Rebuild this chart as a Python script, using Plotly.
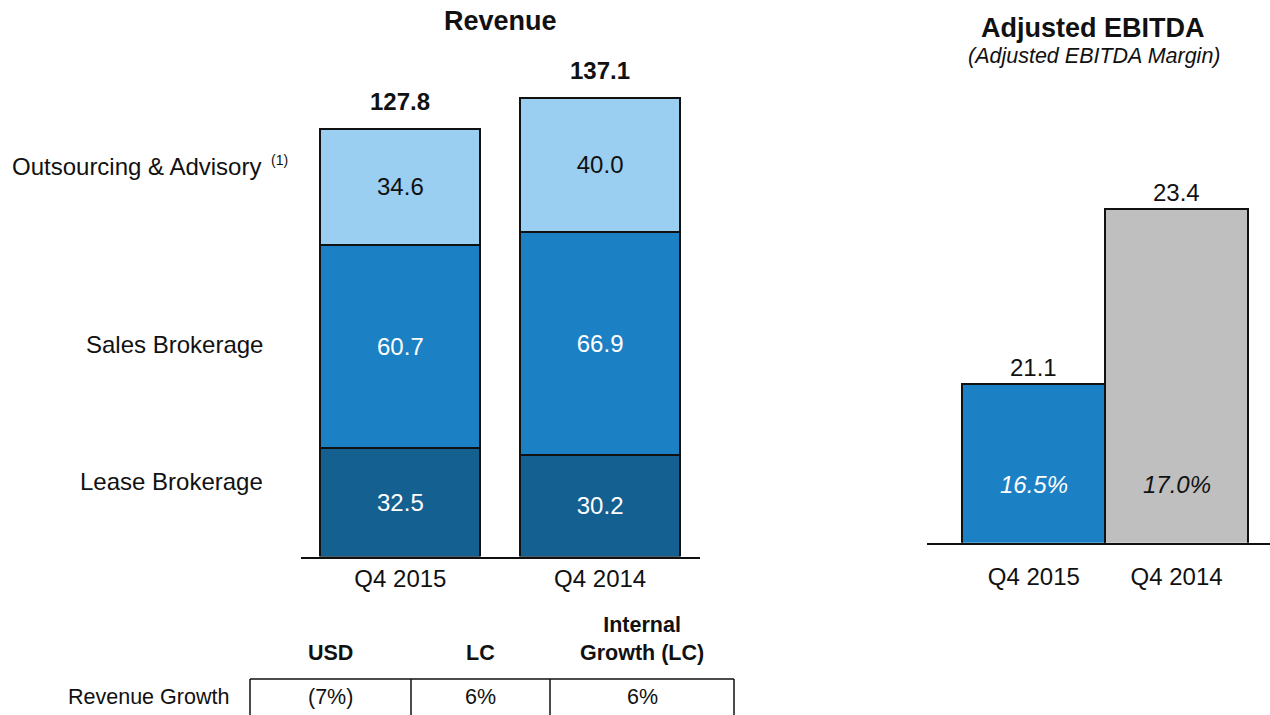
import plotly.graph_objects as go

# ---------------- data ----------------
categories = ["Q4 2015", "Q4 2014"]
segment_names = ["Lease Brokerage", "Sales Brokerage", "Outsourcing & Advisory"]
lease_brokerage = [32.5, 30.2]
sales_brokerage = [60.7, 66.9]
outsourcing_advisory = [34.6, 40.0]
revenue_total = [127.8, 137.1]

ebitda = [21.1, 23.4]
ebitda_margin = ["16.5%", "17.0%"]

table_columns = ["USD", "LC", "Internal<br>Growth (LC)"]
table_row_label = "Revenue Growth"
table_values = ["(7%)", "6%", "6%"]
footnote_mark = "(1)"

# ---------------- style ----------------
W, H = 1270, 715
FONT = "Arial, Liberation Sans, sans-serif"
LIGHT = "#9ACFF1"
MID = "#1B80C4"
DARK = "#146091"
GRAY = "#BFBFBF"
EDGE = "#111111"
TXT = "#111111"
FS = 24


def px(x):
    return x / W


def py(y):
    return 1 - y / H


fig = go.Figure()

seg_values = [lease_brokerage, sales_brokerage, outsourcing_advisory]
seg_colors = [DARK, MID, LIGHT]
seg_text_colors = ["white", "white", TXT]
for name, vals, col, tcol in zip(segment_names, seg_values, seg_colors, seg_text_colors):
    fig.add_trace(go.Bar(
        x=categories, y=vals, name=name, xaxis="x", yaxis="y", width=0.8,
        marker=dict(color=col, line=dict(color=EDGE, width=2)),
        text=[f"{v:.1f}" for v in vals], textposition="inside",
        insidetextanchor="middle", textangle=0,
        textfont=dict(family=FONT, size=FS, color=tcol),
        hoverinfo="skip", showlegend=False,
    ))

fig.add_trace(go.Bar(
    x=categories, y=ebitda, xaxis="x2", yaxis="y2", width=1.0,
    marker=dict(color=[MID, GRAY], line=dict(color=EDGE, width=2)),
    hoverinfo="skip", showlegend=False,
))

ann = []
# totals above revenue bars
for c, t in zip(categories, revenue_total):
    ann.append(dict(x=c, y=t, xref="x", yref="y", text=f"<b>{t:.1f}</b>",
                    xanchor="center", yanchor="bottom", yshift=12, showarrow=False,
                    font=dict(family=FONT, size=FS, color=TXT)))
# EBITDA values
for c, v in zip(categories, ebitda):
    ann.append(dict(x=c, y=v, xref="x2", yref="y2", text=f"{v:.1f}",
                    xanchor="center", yanchor="bottom", yshift=1, showarrow=False,
                    font=dict(family=FONT, size=FS, color=TXT)))
# EBITDA margins
for c, m, col in zip(categories, ebitda_margin, ["white", TXT]):
    ann.append(dict(x=c, y=py(484), xref="x2", yref="paper", text=f"<i>{m}</i>",
                    xanchor="center", yanchor="middle", showarrow=False,
                    font=dict(family=FONT, size=FS, color=col)))

# segment labels
seg_label_y = {"Outsourcing & Advisory": 166, "Sales Brokerage": 344, "Lease Brokerage": 481}
for name in segment_names:
    xr = 263 if name == "Outsourcing & Advisory" else 265
    ann.append(dict(x=px(xr), y=py(seg_label_y[name]), xref="paper", yref="paper",
                    text=name, xanchor="right", yanchor="middle", showarrow=False,
                    font=dict(family=FONT, size=FS, color=TXT)))
ann.append(dict(x=px(269), y=py(160), xref="paper", yref="paper",
                text=footnote_mark, xanchor="left", yanchor="middle", showarrow=False,
                font=dict(family=FONT, size=14, color=TXT)))

# titles
ann.append(dict(x=px(500), y=py(21), xref="paper", yref="paper", text="<b>Revenue</b>",
                showarrow=False, xanchor="center", yanchor="middle",
                font=dict(family=FONT, size=27, color=TXT)))
ann.append(dict(x=px(1093), y=py(28), xref="paper", yref="paper", text="<b>Adjusted EBITDA</b>",
                showarrow=False, xanchor="center", yanchor="middle",
                font=dict(family=FONT, size=27, color=TXT)))
ann.append(dict(x=px(1094), y=py(56), xref="paper", yref="paper",
                text="<i>(Adjusted EBITDA Margin)</i>",
                showarrow=False, xanchor="center", yanchor="middle",
                font=dict(family=FONT, size=21.5, color=TXT)))

# table
col_edges = [250, 411, 550, 734]
shapes = [dict(type="line", xref="paper", yref="paper", x0=px(col_edges[0]), x1=px(col_edges[-1]),
               y0=py(679), y1=py(679), line=dict(color=EDGE, width=1.5))]
for e in col_edges:
    shapes.append(dict(type="line", xref="paper", yref="paper", x0=px(e), x1=px(e),
                       y0=py(679), y1=py(716), line=dict(color=EDGE, width=1.5)))
for i, (hdr, val) in enumerate(zip(table_columns, table_values)):
    cx = (col_edges[i] + col_edges[i + 1]) / 2
    ann.append(dict(x=px(cx), y=py(667), xref="paper", yref="paper", text=f"<b>{hdr}</b>",
                    xanchor="center", yanchor="bottom", showarrow=False,
                    font=dict(family=FONT, size=21.5, color=TXT)))
    ann.append(dict(x=px(cx), y=py(697), xref="paper", yref="paper", text=val,
                    xanchor="center", yanchor="middle", showarrow=False,
                    font=dict(family=FONT, size=21.5, color=TXT)))
ann.append(dict(x=px(231), y=py(697), xref="paper", yref="paper", text=table_row_label,
                xanchor="right", yanchor="middle", showarrow=False,
                font=dict(family=FONT, size=21.5, color=TXT)))

rev_scale = 3.345      # px per unit
eb_scale = 75.8        # px per unit
eb_min = 19.0

fig.update_layout(
    width=W, height=H, margin=dict(l=0, r=0, t=0, b=0),
    paper_bgcolor="white", plot_bgcolor="white",
    barmode="stack", showlegend=False,
    font=dict(family=FONT, size=FS, color=TXT),
    xaxis=dict(domain=[px(300.5), px(700)], range=[-0.5, 1.5], showline=True,
               linecolor=EDGE, linewidth=2, ticks="", showgrid=False,
               tickfont=dict(family=FONT, size=FS, color=TXT), fixedrange=True),
    yaxis=dict(domain=[py(556.5), py(40)], range=[0, (556.5 - 40) / rev_scale],
               visible=False, fixedrange=True),
    xaxis2=dict(domain=[px(927.3), 1.0], range=[-0.746, 1.654], showline=True,
                linecolor=EDGE, linewidth=2, ticks="", showgrid=False,
                tickfont=dict(family=FONT, size=FS, color=TXT),
                ticklabelstandoff=11, anchor="y2", fixedrange=True),
    yaxis2=dict(domain=[py(542.7), py(40)], range=[eb_min, eb_min + (542.7 - 40) / eb_scale],
                visible=False, anchor="x2", fixedrange=True),
    annotations=ann, shapes=shapes,
)

fig.write_html("out.html", config={"displayModeBar": False},
               post_script="document.body.style.margin='0px';document.body.style.overflow='hidden';")
